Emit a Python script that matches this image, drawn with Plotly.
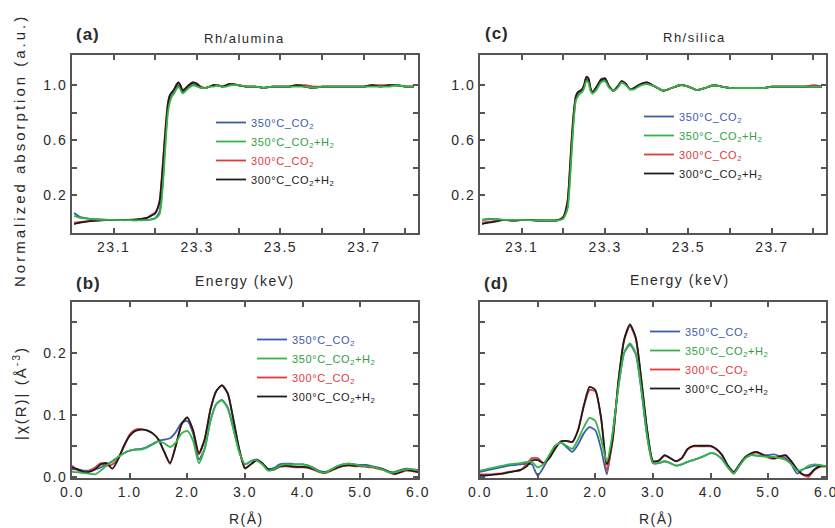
import plotly.graph_objects as go

# ---------------- data ----------------
energy_keV = [23.005, 23.02, 23.04, 23.06, 23.08, 23.10, 23.12, 23.14, 23.16, 23.18,
              23.19, 23.20, 23.21, 23.215, 23.22, 23.225, 23.23, 23.235, 23.24, 23.245,
              23.25, 23.255, 23.26, 23.265, 23.27, 23.28, 23.29, 23.30, 23.31, 23.32,
              23.33, 23.34, 23.35, 23.36, 23.37, 23.38, 23.40, 23.42, 23.44, 23.46,
              23.48, 23.50, 23.52, 23.54, 23.56, 23.58, 23.60, 23.62, 23.64, 23.66,
              23.68, 23.70, 23.72, 23.74, 23.76, 23.78, 23.80, 23.82]

# (a) Rh/alumina XANES
alu_350_co2 = [0.07, 0.04, 0.03, 0.025, 0.022, 0.02, 0.02, 0.018, 0.018, 0.02,
               0.025, 0.035, 0.08, 0.2, 0.4, 0.65, 0.82, 0.9, 0.93, 0.95,
               0.98, 1.0, 0.98, 0.95, 0.96, 0.99, 1.01, 1.0, 0.98, 0.98,
               0.99, 1.0, 1.0, 0.99, 1.0, 1.01, 1.0, 0.99, 0.99, 0.98,
               0.99, 0.99, 0.99, 1.0, 0.99, 0.98, 0.99, 0.99, 0.99, 0.99,
               0.99, 0.99, 1.0, 0.99, 1.0, 1.0, 0.99, 0.99]
alu_350_co2h2 = [0.05, 0.035, 0.028, 0.022, 0.02, 0.02, 0.018, 0.018, 0.017, 0.018,
                 0.022, 0.03, 0.06, 0.16, 0.36, 0.6, 0.8, 0.88, 0.92, 0.94,
                 0.97, 0.99, 0.97, 0.94, 0.95, 0.98, 1.0, 0.99, 0.98, 0.98,
                 0.99, 0.99, 1.0, 0.99, 0.99, 1.0, 1.0, 0.99, 0.99, 0.98,
                 0.99, 0.99, 0.99, 0.99, 0.99, 0.98, 0.99, 0.99, 0.99, 0.99,
                 0.99, 0.99, 0.99, 0.99, 0.99, 1.0, 0.99, 0.99]
alu_300_co2 = [0.0, 0.005, 0.012, 0.016, 0.018, 0.02, 0.02, 0.022, 0.026, 0.036,
               0.055, 0.075, 0.16, 0.32, 0.52, 0.72, 0.87, 0.93, 0.95, 0.97,
               1.0, 1.02, 1.0, 0.97, 0.97, 1.0, 1.02, 1.01, 0.99, 0.98,
               0.99, 1.0, 1.0, 0.99, 1.0, 1.01, 1.0, 0.99, 0.99, 0.98,
               0.99, 0.99, 0.99, 1.0, 1.0, 0.99, 0.99, 0.99, 0.99, 0.99,
               0.99, 0.99, 1.0, 1.0, 1.0, 1.0, 0.99, 0.99]
alu_300_co2h2 = [-0.01, 0.0, 0.01, 0.015, 0.018, 0.02, 0.02, 0.02, 0.025, 0.035,
                 0.05, 0.07, 0.15, 0.3, 0.5, 0.7, 0.86, 0.93, 0.95, 0.97,
                 1.0, 1.02, 1.0, 0.96, 0.97, 1.0, 1.02, 1.01, 0.98, 0.98,
                 0.99, 1.0, 1.0, 0.99, 1.0, 1.01, 1.0, 0.99, 0.99, 0.98,
                 0.99, 0.99, 0.99, 1.0, 0.99, 0.98, 0.99, 0.99, 0.99, 0.99,
                 0.99, 0.99, 1.0, 0.99, 1.0, 1.0, 0.99, 0.99]

# (c) Rh/silica XANES
sil_350_co2 = [0.02, 0.025, 0.025, 0.02, 0.02, 0.02, 0.018, 0.016, 0.016, 0.016,
               0.02, 0.035, 0.12, 0.3, 0.55, 0.77, 0.9, 0.93, 0.95, 0.96,
               0.99, 1.04, 1.03, 0.97, 0.95, 0.98, 1.03, 1.04, 0.99, 0.96,
               0.99, 1.02, 1.01, 0.97, 0.98, 1.0, 1.01, 0.99, 0.96, 0.98,
               1.0, 0.99, 0.965, 0.98, 1.0, 0.99, 0.98, 0.98, 0.98, 0.98,
               0.98, 0.99, 0.99, 0.99, 0.99, 0.99, 0.99, 0.99]
sil_350_co2h2 = [0.02, 0.03, 0.025, 0.02, 0.02, 0.02, 0.018, 0.016, 0.016, 0.016,
                 0.018, 0.03, 0.1, 0.27, 0.52, 0.75, 0.89, 0.92, 0.94, 0.95,
                 0.98, 1.03, 1.02, 0.96, 0.94, 0.97, 1.02, 1.03, 0.98, 0.96,
                 0.98, 1.02, 1.0, 0.97, 0.97, 0.99, 1.01, 0.99, 0.96, 0.98,
                 1.0, 0.99, 0.965, 0.98, 1.0, 0.99, 0.98, 0.98, 0.98, 0.98,
                 0.98, 0.99, 0.99, 0.99, 0.99, 0.99, 0.99, 0.99]
sil_300_co2 = [0.0, 0.005, 0.015, 0.02, 0.015, 0.02, 0.02, 0.016, 0.015, 0.016,
               0.022, 0.045, 0.16, 0.37, 0.62, 0.81, 0.92, 0.95, 0.96, 0.97,
               1.01, 1.06, 1.05, 0.98, 0.95, 0.99, 1.04, 1.05, 0.99, 0.96,
               0.99, 1.03, 1.01, 0.97, 0.98, 1.0, 1.02, 0.99, 0.96, 0.98,
               1.0, 0.99, 0.965, 0.98, 1.0, 0.99, 0.98, 0.98, 0.98, 0.98,
               0.98, 0.99, 0.99, 0.99, 0.99, 0.99, 1.0, 0.99]
sil_300_co2h2 = [-0.01, 0.0, 0.01, 0.02, 0.015, 0.02, 0.02, 0.015, 0.015, 0.015,
                 0.02, 0.04, 0.15, 0.35, 0.6, 0.8, 0.92, 0.95, 0.96, 0.97,
                 1.0, 1.06, 1.05, 0.98, 0.95, 0.99, 1.04, 1.05, 0.99, 0.96,
                 0.99, 1.03, 1.01, 0.97, 0.98, 1.0, 1.02, 0.99, 0.96, 0.98,
                 1.0, 0.99, 0.965, 0.98, 1.0, 0.99, 0.98, 0.98, 0.98, 0.98,
                 0.98, 0.99, 0.99, 0.99, 0.99, 0.99, 0.99, 0.99]

r_angstrom = [0.0, 0.1, 0.2, 0.3, 0.4, 0.5, 0.6, 0.7, 0.8, 0.9,
              1.0, 1.1, 1.2, 1.3, 1.4, 1.5, 1.6, 1.7, 1.8, 1.9,
              2.0, 2.1, 2.2, 2.3, 2.4, 2.5, 2.6, 2.7, 2.8, 2.9,
              3.0, 3.1, 3.2, 3.3, 3.4, 3.5, 3.6, 3.7, 3.8, 3.9,
              4.0, 4.1, 4.2, 4.3, 4.4, 4.5, 4.6, 4.7, 4.8, 4.9,
              5.0, 5.1, 5.2, 5.3, 5.4, 5.5, 5.6, 5.7, 5.8, 5.9, 6.0]

# (b) Rh/alumina |chi(R)|
ft_alu_350_co2 = [0.012, 0.012, 0.01, 0.01, 0.012, 0.015, 0.02, 0.025, 0.032, 0.038,
                  0.042, 0.044, 0.045, 0.048, 0.053, 0.058, 0.06, 0.062, 0.072, 0.087,
                  0.09, 0.07, 0.028, 0.045, 0.09, 0.117, 0.124, 0.112, 0.078, 0.04,
                  0.02, 0.025, 0.028, 0.022, 0.013, 0.014, 0.02, 0.021, 0.021, 0.02,
                  0.02, 0.018, 0.014, 0.009, 0.008, 0.012, 0.017, 0.02, 0.021, 0.02,
                  0.019, 0.019, 0.017, 0.015, 0.012, 0.008, 0.008, 0.011, 0.013, 0.012, 0.011]
ft_alu_350_co2h2 = [0.008, 0.007, 0.006, 0.005, 0.004, 0.01, 0.018, 0.025, 0.032, 0.038,
                    0.042, 0.044, 0.044, 0.047, 0.052, 0.057, 0.054, 0.048, 0.055, 0.07,
                    0.074, 0.058, 0.022, 0.045, 0.09, 0.117, 0.123, 0.11, 0.076, 0.04,
                    0.02, 0.025, 0.027, 0.02, 0.01, 0.012, 0.018, 0.02, 0.02, 0.02,
                    0.02, 0.018, 0.013, 0.008, 0.007, 0.012, 0.017, 0.02, 0.021, 0.02,
                    0.018, 0.017, 0.016, 0.014, 0.011, 0.007, 0.007, 0.01, 0.012, 0.012, 0.01]
ft_alu_300_co2 = [0.018, 0.01, 0.006, 0.01, 0.015, 0.022, 0.018, 0.02, 0.03, 0.048,
                  0.068, 0.076, 0.077, 0.075, 0.07, 0.06, 0.04, 0.021, 0.05, 0.084,
                  0.095, 0.074, 0.036, 0.06, 0.108, 0.138, 0.147, 0.134, 0.091, 0.044,
                  0.013, 0.02, 0.026, 0.021, 0.011, 0.011, 0.016, 0.017, 0.016, 0.015,
                  0.015, 0.014, 0.011, 0.007, 0.006, 0.01, 0.014, 0.017, 0.018, 0.017,
                  0.017, 0.016, 0.015, 0.013, 0.011, 0.007, 0.004, 0.007, 0.01, 0.009, 0.007]
ft_alu_300_co2h2 = [0.015, 0.012, 0.008, 0.008, 0.012, 0.02, 0.022, 0.013, 0.028, 0.05,
                    0.066, 0.074, 0.076, 0.075, 0.07, 0.06, 0.04, 0.022, 0.05, 0.085,
                    0.096, 0.075, 0.038, 0.06, 0.108, 0.138, 0.148, 0.135, 0.092, 0.045,
                    0.014, 0.02, 0.027, 0.022, 0.012, 0.012, 0.017, 0.018, 0.017, 0.016,
                    0.016, 0.015, 0.012, 0.008, 0.007, 0.011, 0.015, 0.018, 0.019, 0.018,
                    0.018, 0.017, 0.016, 0.014, 0.012, 0.008, 0.005, 0.008, 0.011, 0.01, 0.008]

# (d) Rh/silica |chi(R)|
ft_sil_350_co2 = [0.008, 0.01, 0.012, 0.014, 0.016, 0.018, 0.019, 0.02, 0.021, 0.02,
                  0.002, 0.015, 0.032, 0.048, 0.055, 0.048, 0.04, 0.052, 0.07, 0.08,
                  0.075, 0.045, 0.004, 0.07, 0.145, 0.2, 0.213, 0.198, 0.138, 0.064,
                  0.022, 0.022, 0.025, 0.022, 0.018, 0.02, 0.024, 0.027, 0.03, 0.034,
                  0.038, 0.036, 0.028, 0.015, 0.005, 0.018, 0.03, 0.035, 0.034, 0.034,
                  0.035, 0.036, 0.033, 0.03, 0.02, 0.005, 0.012, 0.015, 0.018, 0.018, 0.017]
ft_sil_350_co2h2 = [0.01, 0.012, 0.014, 0.016, 0.018, 0.02, 0.021, 0.022, 0.024, 0.024,
                    0.015, 0.02, 0.035, 0.05, 0.055, 0.05, 0.045, 0.06, 0.08, 0.095,
                    0.09, 0.06, 0.025, 0.07, 0.145, 0.2, 0.215, 0.2, 0.14, 0.065,
                    0.022, 0.022, 0.025, 0.022, 0.018, 0.02, 0.024, 0.027, 0.03, 0.034,
                    0.038, 0.036, 0.028, 0.015, 0.006, 0.018, 0.03, 0.035, 0.034, 0.033,
                    0.032, 0.032, 0.03, 0.027, 0.02, 0.01, 0.012, 0.018, 0.02, 0.019, 0.017]
ft_sil_300_co2 = [0.004, 0.004, 0.004, 0.005, 0.006, 0.008, 0.009, 0.01, 0.02, 0.03,
                  0.03, 0.022, 0.03, 0.045, 0.057, 0.058, 0.056, 0.075, 0.113, 0.14,
                  0.138, 0.094, 0.01, 0.058, 0.153, 0.22, 0.243, 0.223, 0.153, 0.074,
                  0.025, 0.026, 0.034, 0.03, 0.025, 0.03, 0.044, 0.049, 0.049, 0.049,
                  0.049, 0.044, 0.034, 0.017, 0.007, 0.019, 0.031, 0.037, 0.039, 0.035,
                  0.031, 0.029, 0.032, 0.034, 0.024, 0.011, 0.003, 0.0, 0.011, 0.016, 0.017]
ft_sil_300_co2h2 = [0.002, 0.002, 0.003, 0.004, 0.005, 0.007, 0.009, 0.011, 0.016, 0.026,
                    0.027, 0.022, 0.03, 0.045, 0.057, 0.058, 0.056, 0.075, 0.115, 0.145,
                    0.14, 0.095, 0.02, 0.06, 0.155, 0.222, 0.246, 0.225, 0.155, 0.075,
                    0.025, 0.026, 0.035, 0.03, 0.025, 0.03, 0.045, 0.05, 0.05, 0.05,
                    0.05, 0.045, 0.035, 0.018, 0.008, 0.02, 0.032, 0.038, 0.04, 0.036,
                    0.032, 0.03, 0.033, 0.035, 0.025, 0.012, 0.004, 0.003, 0.012, 0.017, 0.017]

series_names = ["350°C_CO<sub>2</sub>", "350°C_CO<sub>2</sub>+H<sub>2</sub>",
                "300°C_CO<sub>2</sub>", "300°C_CO<sub>2</sub>+H<sub>2</sub>"]
line_colors = ["#3d5ca8", "#35b448", "#e03a3e", "#1c1c1c"]
text_colors = ["#3d5ca8", "#2ea043", "#e03a3e", "#222222"]

x_tick_vals_e = [23.1, 23.2, 23.3, 23.4, 23.5, 23.6, 23.7, 23.8]
x_tick_text_e = ["23.1", "", "23.3", "", "23.5", "", "23.7", ""]
y_tick_vals_e = [0.2, 0.4, 0.6, 0.8, 1.0]
y_tick_text_e = ["0.2", "", "0.6", "", "1.0"]
x_tick_vals_r = [0, 1, 2, 3, 4, 5, 6]
x_tick_text_r = ["0.0", "1.0", "2.0", "3.0", "4.0", "5.0", "6.0"]
y_tick_vals_r = [0.0, 0.05, 0.1, 0.15, 0.2, 0.25]
y_tick_text_r = ["0.0", "", "0.1", "", "0.2", ""]

# ---------------- figure ----------------
FONT = "Arial"
LS = "letter-spacing:1.5px"


def sp(t, style=LS):
    return f"<span style='{style}'>{t}</span>" if t else t


fig = go.Figure()

panels = [
    ("x", "y", "legend", energy_keV, [alu_350_co2, alu_350_co2h2, alu_300_co2, alu_300_co2h2]),
    ("x2", "y2", "legend2", r_angstrom, [ft_alu_350_co2, ft_alu_350_co2h2, ft_alu_300_co2, ft_alu_300_co2h2]),
    ("x3", "y3", "legend3", energy_keV, [sil_350_co2, sil_350_co2h2, sil_300_co2, sil_300_co2h2]),
    ("x4", "y4", "legend4", r_angstrom, [ft_sil_350_co2, ft_sil_350_co2h2, ft_sil_300_co2, ft_sil_300_co2h2]),
]
draw_order = [0, 2, 3, 1]
for xa, ya, lg, xs, ys in panels:
    for i in draw_order:
        fig.add_trace(go.Scatter(
            x=xs, y=ys[i], xaxis=xa, yaxis=ya, mode="lines",
            line=dict(color=line_colors[i], width=1.8, shape="spline", smoothing=0.6),
            name=f"<span style='color:{text_colors[i]};letter-spacing:0.6px'>{series_names[i]}</span>",
            legend=lg, legendrank=i + 1, showlegend=True,
        ))

axis_common = dict(showline=True, linecolor="#555555", linewidth=2, mirror="allticks",
                   ticks="inside", ticklen=5, tickwidth=1.5, tickcolor="#555555",
                   showgrid=False, zeroline=False, automargin=False,
                   ticklabeloverflow="allow",
                   tickfont=dict(family=FONT, size=14, color="#2a2a2a"))

xL = [72 / 835, 418 / 835]
xR = [480 / 835, 826 / 835]
yT = [1 - 233 / 528, 1 - 55 / 528]
yB = [1 - 478 / 528, 1 - 302 / 528]

fig.update_layout(
    width=835, height=528,
    margin=dict(l=0, r=0, t=0, b=0, autoexpand=False),
    paper_bgcolor="white", plot_bgcolor="white",
    font=dict(family=FONT, color="#333333"),
    xaxis=dict(domain=xL, anchor="y", range=[23.0, 23.83], tickvals=x_tick_vals_e,
               ticktext=[sp(t) for t in x_tick_text_e], **axis_common),
    yaxis=dict(domain=yT, anchor="x", range=[-0.075, 1.22], tickvals=y_tick_vals_e,
               ticktext=[sp(t) for t in y_tick_text_e], **axis_common),
    xaxis2=dict(domain=xL, anchor="y2", range=[0, 6], tickvals=x_tick_vals_r,
                ticktext=[sp(t) for t in x_tick_text_r], **axis_common),
    yaxis2=dict(domain=yB, anchor="x2", range=[-0.002, 0.282], tickvals=y_tick_vals_r,
                ticktext=[sp(t) for t in y_tick_text_r], **axis_common),
    xaxis3=dict(domain=xR, anchor="y3", range=[23.0, 23.83], tickvals=x_tick_vals_e,
                ticktext=[sp(t) for t in x_tick_text_e], **axis_common),
    yaxis3=dict(domain=yT, anchor="x3", range=[-0.075, 1.22], tickvals=y_tick_vals_e,
                ticktext=[sp(t) for t in y_tick_text_e], **axis_common),
    xaxis4=dict(domain=xR, anchor="y4", range=[0, 6], tickvals=x_tick_vals_r,
                ticktext=[sp(t) for t in x_tick_text_r], **axis_common),
    yaxis4=dict(domain=yB, anchor="x4", range=[-0.002, 0.282], tickvals=y_tick_vals_r,
                showticklabels=False, **axis_common),
    showlegend=True,
)

legend_common = dict(bgcolor="rgba(0,0,0,0)", borderwidth=0, xanchor="left", yanchor="top",
                     font=dict(family=FONT, size=11), itemwidth=30, tracegroupgap=0)
fig.update_layout(
    legend=dict(x=211 / 835, y=1 - 108 / 528, **legend_common),
    legend2=dict(x=252 / 835, y=1 - 325 / 528, **legend_common),
    legend3=dict(x=639 / 835, y=1 - 102 / 528, **legend_common),
    legend4=dict(x=645 / 835, y=1 - 317 / 528, **legend_common),
)


def ann(text, x, y, size=13, angle=0, bold=False, ls="1.5px"):
    t = f"<b>{text}</b>" if bold else text
    fig.add_annotation(text=f"<span style='letter-spacing:{ls}'>{t}</span>",
                       x=x / 835, y=1 - y / 528, xref="paper", yref="paper",
                       showarrow=False, textangle=angle,
                       font=dict(family=FONT, size=size, color="#2a2a2a"),
                       xanchor="center", yanchor="middle")


ann("(a)", 88, 34, size=17, bold=True, ls="1px")
ann("(b)", 88, 283, size=17, bold=True, ls="1px")
ann("(c)", 497, 33, size=17, bold=True, ls="1px")
ann("(d)", 497, 283, size=17, bold=True, ls="1px")
ann("Rh/alumina", 245, 38, size=13)
ann("Rh/silica", 694, 37, size=13)
ann("Energy (keV)", 245, 281, size=14)
ann("Energy (keV)", 680, 280, size=14)
ann("R(Å)", 246, 519, size=14)
ann("R(Å)", 656, 519, size=14)
ann("Normalized absorption (a.u.)", 19, 151, size=15, angle=-90, ls="3px")
ann("|χ(R)| (Å<sup>-3</sup>)", 19, 393, size=15, angle=-90, ls="2px")

fig.write_html("out.html", config={"displayModeBar": False},
               post_script="document.body.style.margin='0';")
